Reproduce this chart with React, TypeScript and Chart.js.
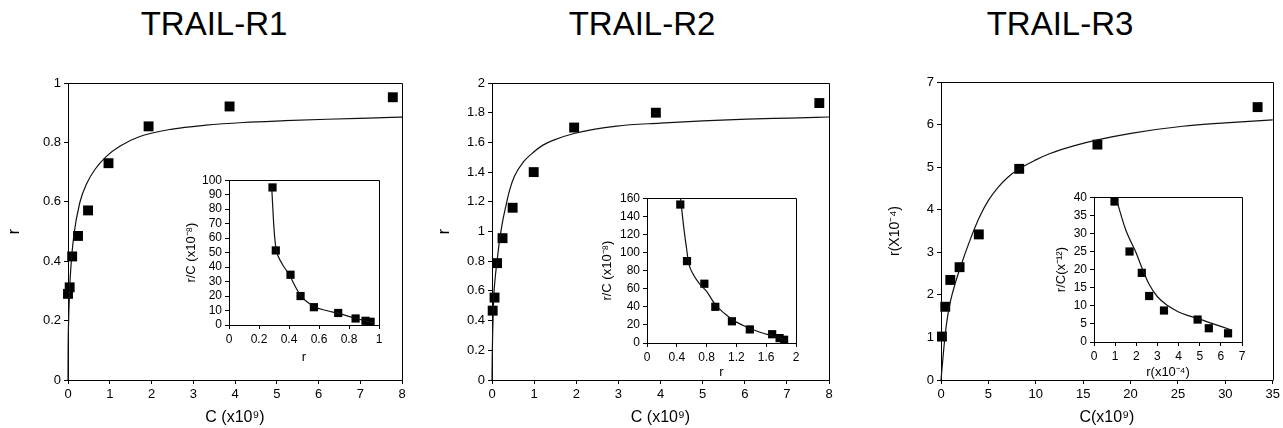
import React, { useEffect, useRef } from 'react';
import { Chart, registerables } from 'chart.js';

Chart.register(...registerables);

const FONT = '"Liberation Sans", Arial, Helvetica, sans-serif';

// ---------- TRAIL-R1 ----------
const r1C = [0.0, 0.04, 0.1, 0.24, 0.48, 0.97, 1.93, 3.87, 7.78];
const r1R = [0.29, 0.312, 0.416, 0.485, 0.571, 0.73, 0.854, 0.921, 0.952];
const r1FitC = [0, 0.003, 0.015, 0.035, 0.064, 0.136, 0.28, 0.455, 0.64, 0.92, 1.24, 1.72, 2.5, 3.3, 4.2, 5.2, 6.2, 7.2, 8];
const r1FitR = [0, 0.1, 0.2, 0.29, 0.37, 0.483, 0.596, 0.663, 0.708, 0.753, 0.787, 0.82, 0.845, 0.858, 0.867, 0.873, 0.878, 0.882, 0.885];
const r1InsR = [0.29, 0.312, 0.41, 0.477, 0.566, 0.728, 0.844, 0.91, 0.944];
const r1InsRC = [95, 51.5, 34.7, 20, 12.3, 8.3, 4.5, 2.9, 2.2];
const r1InsFitR = [0.285, 0.295, 0.305, 0.315, 0.35, 0.4, 0.45, 0.48, 0.52, 0.57, 0.65, 0.73, 0.85, 0.92, 0.96];
const r1InsFitRC = [95, 75, 60, 52, 43, 35, 25, 20, 16, 12.5, 10, 8, 4.5, 2.5, 1.5];

// ---------- TRAIL-R2 ----------
const r2C = [0.016, 0.06, 0.12, 0.25, 0.49, 0.99, 1.95, 3.89, 7.77];
const r2R = [0.467, 0.555, 0.787, 0.955, 1.16, 1.4, 1.7, 1.8, 1.865];
const r2FitC = [0, 0.005, 0.016, 0.04, 0.08, 0.12, 0.17, 0.24, 0.32, 0.42, 0.53, 0.75, 0.99, 1.2, 1.46, 1.95, 2.96, 3.99, 5.0, 6.05, 7.07, 8];
const r2FitR = [0, 0.15, 0.32, 0.55, 0.7, 0.8, 0.92, 1.05, 1.16, 1.28, 1.37, 1.47, 1.535, 1.58, 1.615, 1.66, 1.71, 1.73, 1.745, 1.757, 1.764, 1.771];
const r2InsR = [0.447, 0.537, 0.77, 0.917, 1.14, 1.38, 1.68, 1.78, 1.84];
const r2InsRC = [153, 90.5, 65.5, 40, 24, 15, 9.7, 5.4, 3.6];
const r2InsFitR = [0.45, 0.49, 0.53, 0.56, 0.62, 0.7, 0.8, 0.92, 1.05, 1.16, 1.3, 1.4, 1.55, 1.7, 1.8, 1.86];
const r2InsFitRC = [160, 130, 105, 88, 76, 66, 57, 42, 32, 25, 19, 15.5, 11, 7.5, 4.5, 2.5];

// ---------- TRAIL-R3 ----------
const r3C = [0.1, 0.45, 0.98, 1.96, 3.99, 8.25, 16.5, 33.4];
const r3R = [1.02, 1.72, 2.35, 2.65, 3.42, 4.96, 5.53, 6.41];
const r3FitC = [0, 0.3, 0.6, 1.0, 1.5, 2.0, 3, 4, 5, 6, 7, 8.25, 10, 11.5, 14, 16.5, 20.2, 25.5, 30, 35];
const r3FitR = [0, 0.75, 1.35, 1.85, 2.27, 2.62, 3.25, 3.8, 4.22, 4.52, 4.75, 4.96, 5.17, 5.32, 5.5, 5.64, 5.8, 5.96, 6.04, 6.11];
const r3InsR = [0.97, 1.68, 2.26, 2.61, 3.31, 4.9, 5.43, 6.34];
const r3InsRC = [38.8, 25, 19.1, 12.7, 8.7, 6.2, 3.8, 2.4];
const r3InsFitR = [1.08, 1.5, 2.0, 2.3, 2.6, 3.0, 3.5, 4.0, 4.5, 5.0, 5.5, 6.0, 6.5];
const r3InsFitRC = [39, 31, 24.5, 20, 16, 12.5, 10, 8.3, 7.2, 6.3, 5.3, 4.3, 3.3];

const titles = ['TRAIL-R1', 'TRAIL-R2', 'TRAIL-R3'];
const titleCenters = [214, 642, 1060];

const zip = (xs: number[], ys: number[]) => xs.map((x, i) => ({ x, y: ys[i] }));

const framePlugin = {
  id: 'frame',
  beforeDatasetsDraw(chart: any) {
    const { ctx, chartArea } = chart;
    const l = Math.round(chartArea.left) + 0.5;
    const t = Math.round(chartArea.top) + 0.5;
    const r = Math.round(chartArea.right) + 0.5;
    const b = Math.round(chartArea.bottom) + 0.5;
    ctx.save();
    ctx.strokeStyle = '#000';
    ctx.lineWidth = 1;
    ctx.beginPath();
    ctx.moveTo(l, t);
    ctx.lineTo(r, t);
    ctx.lineTo(r, b);
    ctx.stroke();
    ctx.restore();
  },
};

type Cfg = {
  pts: { x: number; y: number }[];
  fit: { x: number; y: number }[];
  x: [number, number, number];
  y: [number, number, number];
  xTitle: string;
  yTitle: string;
  yWidth: number;
  xHeight: number;
  pad: { top: number; right: number; bottom: number; left: number };
  tickSize: number;
  xTitleSize: number;
  yTitleSize: number;
  yTitlePad: number;
  xTitlePad: number;
  radius: number;
};

const fmt = (v: any) => String(Math.round(Number(v) * 1000) / 1000);

function buildConfig(c: Cfg): any {
  const axisCommon = (min: number, max: number, step: number, size: number) => ({
    type: 'linear',
    min,
    max,
    grid: { display: true, drawOnChartArea: false, drawTicks: true, tickLength: 4, color: '#000', lineWidth: 1 },
    border: { display: true, color: '#000', width: 1 },
    ticks: { stepSize: step, autoSkip: false, maxRotation: 0, color: '#000', font: { family: FONT, size }, padding: 3, callback: fmt },
  });
  return {
    type: 'scatter',
    data: {
      datasets: [
        {
          data: c.fit,
          showLine: true,
          borderColor: '#111',
          borderWidth: 1.2,
          pointRadius: 0,
          cubicInterpolationMode: 'monotone',
          clip: false,
        },
        {
          data: c.pts,
          pointStyle: 'rect',
          pointRadius: c.radius,
          backgroundColor: '#000',
          borderColor: '#000',
          borderWidth: 0,
          clip: false,
        },
      ],
    },
    options: {
      responsive: false,
      animation: false,
      events: [],
      layout: { padding: c.pad },
      plugins: { legend: { display: false }, tooltip: { enabled: false }, title: { display: false } },
      scales: {
        x: {
          ...axisCommon(c.x[0], c.x[1], c.x[2], c.tickSize),
          position: 'bottom',
          afterFit: (s: any) => { s.height = c.xHeight; },
          title: { display: true, text: c.xTitle, color: '#000', font: { family: FONT, size: c.xTitleSize }, padding: { top: 0, bottom: c.xTitlePad } },
        },
        y: {
          ...axisCommon(c.y[0], c.y[1], c.y[2], c.tickSize),
          position: 'left',
          afterFit: (s: any) => { s.width = c.yWidth; },
          title: { display: true, text: c.yTitle, color: '#000', font: { family: FONT, size: c.yTitleSize }, padding: { top: c.yTitlePad, bottom: 0 } },
        },
      },
    },
    plugins: [framePlugin],
  };
}

function ChartBox({ left, top, width, height, cfg }: { left: number; top: number; width: number; height: number; cfg: Cfg }) {
  const ref = useRef<HTMLCanvasElement>(null);
  useEffect(() => {
    const chart = new Chart(ref.current as HTMLCanvasElement, buildConfig(cfg));
    return () => chart.destroy();
  }, []);
  return (
    <canvas
      ref={ref}
      width={width}
      height={height}
      style={{ position: 'absolute', left, top, width, height, display: 'block' }}
    />
  );
}

const mainCommon = {
  xHeight: 48,
  tickSize: 13,
  xTitleSize: 16,
  xTitlePad: 1,
  radius: 7,
};
const insetCommon = {
  xHeight: 45,
  tickSize: 12,
  xTitleSize: 13,
  yTitleSize: 13,
  radius: 5.8,
};

const main1: Cfg = {
  ...mainCommon,
  pts: zip(r1C, r1R), fit: zip(r1FitC, r1FitR),
  x: [0, 8, 1], y: [0, 1, 0.2],
  xTitle: 'C (x10⁹)', yTitle: 'r',
  yWidth: 68, pad: { top: 83, right: 23, bottom: 0, left: 0 },
  yTitleSize: 16, yTitlePad: 5,
};
const main2: Cfg = {
  ...mainCommon,
  pts: zip(r2C, r2R), fit: zip(r2FitC, r2FitR),
  x: [0, 8, 1], y: [0, 2, 0.2],
  xTitle: 'C (x10⁹)', yTitle: 'r',
  yWidth: 62, pad: { top: 83, right: 21, bottom: 0, left: 0 },
  yTitleSize: 16, yTitlePad: 5,
};
const main3: Cfg = {
  ...mainCommon,
  pts: zip(r3C, r3R), fit: zip(r3FitC, r3FitR),
  x: [0, 35, 5], y: [0, 7, 1],
  xTitle: 'C(x10⁹)', yTitle: 'r(X10⁻⁴)',
  yWidth: 91, pad: { top: 82, right: 9, bottom: 0, left: 0 },
  yTitleSize: 14, yTitlePad: 37,
};
const inset1: Cfg = {
  ...insetCommon,
  pts: zip(r1InsR, r1InsRC), fit: zip(r1InsFitR, r1InsFitRC),
  x: [0, 1, 0.2], y: [0, 100, 10],
  xTitle: 'r', yTitle: 'r/C (x10⁻⁸)',
  yWidth: 49, pad: { top: 6, right: 11, bottom: 0, left: 0 },
  yTitlePad: 4, xTitlePad: 5,
};
const inset2: Cfg = {
  ...insetCommon,
  pts: zip(r2InsR, r2InsRC), fit: zip(r2InsFitR, r2InsFitRC),
  x: [0, 2, 0.4], y: [0, 160, 20],
  xTitle: 'r', yTitle: 'r/C (x10⁻⁸)',
  yWidth: 57, pad: { top: 6, right: 14, bottom: 0, left: 0 },
  yTitlePad: 10, xTitlePad: 8,
};
const inset3: Cfg = {
  ...insetCommon,
  pts: zip(r3InsR, r3InsRC), fit: zip(r3InsFitR, r3InsFitRC),
  x: [0, 7, 1], y: [0, 40, 5],
  xTitle: 'r(x10⁻⁴)', yTitle: 'r/C(x⁻¹²)',
  yWidth: 54, pad: { top: 6, right: 13, bottom: 0, left: 0 },
  yTitlePad: 14, xTitlePad: 7,
};

export default function App() {
  return (
    <div style={{ position: 'absolute', left: 0, top: 0, width: 1283, height: 428, background: '#fff', overflow: 'hidden' }}>
      {titles.map((t, i) => (
        <div
          key={t}
          style={{
            position: 'absolute',
            left: titleCenters[i] - 150,
            top: 7,
            width: 300,
            textAlign: 'center',
            fontFamily: FONT,
            fontSize: 33,
            lineHeight: '33px',
            color: '#000',
          }}
        >
          {t}
        </div>
      ))}
      <ChartBox left={0} top={0} width={425} height={428} cfg={main1} />
      <ChartBox left={430} top={0} width={420} height={428} cfg={main2} />
      <ChartBox left={850} top={0} width={433} height={428} cfg={main3} />
      <ChartBox left={180} top={170} width={210} height={200} cfg={inset1} />
      <ChartBox left={590} top={188} width={220} height={200} cfg={inset2} />
      <ChartBox left={1040} top={187} width={215} height={200} cfg={inset3} />
    </div>
  );
}
